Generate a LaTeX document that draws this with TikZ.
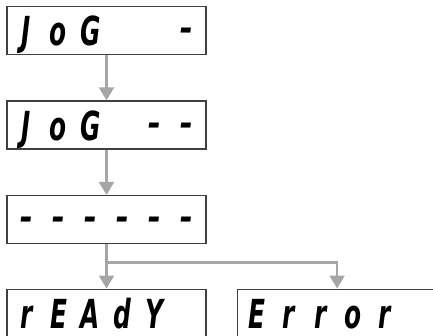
\documentclass[tikz,border=0pt]{standalone}
\usepackage{fontspec}
\usepackage{graphicx}
\newfontfamily\segfont{DejaVu Sans}
\usetikzlibrary{positioning,arrows.meta}

% one character cell of the display
\newcommand{\segcell}[1]{\makebox[32pt]{\scalebox{0.62}[1]{#1}}}
\newcommand{\segdash}{\segcell{\raisebox{4pt}{–}}}

\begin{document}
\begin{tikzpicture}[x=1pt,y=-1pt,
  disp/.style={draw=black!75,line width=1.6pt,minimum width=199pt,minimum height=48pt,
    inner sep=0pt,text height=30pt,text depth=0pt,
    font=\segfont\bfseries\itshape\fontsize{40}{40}\selectfont},
  flow/.style={draw=black!35,line width=2.4pt,-{Triangle[width=15pt,length=13pt]}},
  node distance=45pt]
\useasboundingbox (0,0) rectangle (433,336);
% displays
\node[disp] (jog1) at (106.5,30.5) {\segcell{J}\segcell{o}\segcell{G}\segcell{}\segcell{}\segdash};
\node[disp,below=of jog1] (jog2) {\segcell{J}\segcell{o}\segcell{G}\segcell{}\segdash\segdash};
\node[disp,below=of jog2] (dash) {\segdash\segdash\segdash\segdash\segdash\segdash};
\node[disp,below=44pt of dash] (rdy) {\segcell{r}\segcell{E}\segcell{A}\segcell{d}\segcell{Y}\segcell{}};
\node[disp,right=30pt of rdy] (err) {\segcell{E}\segcell{r}\segcell{r}\segcell{o}\segcell{r}\segcell{}};
% connectors
\coordinate[below=18pt of dash] (split);
\draw[flow] (jog1) -- (jog2);
\draw[flow] (jog2) -- (dash);
\draw[flow] (dash) -- (rdy);
\draw[flow] (split) -| (err.north);
\end{tikzpicture}
\end{document}
